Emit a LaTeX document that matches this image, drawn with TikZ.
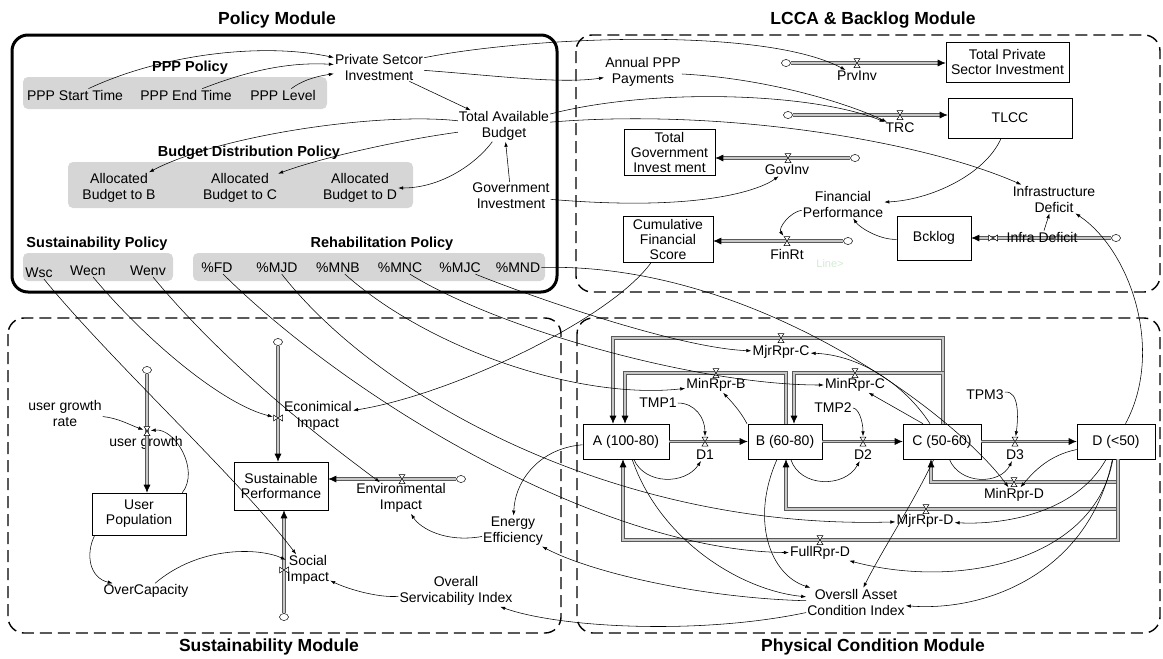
\documentclass[tikz,border=0pt]{standalone}
\usepackage{fontspec}
\setmainfont{Liberation Sans}
\usetikzlibrary{calc, arrows.meta, shapes.geometric}

\definecolor{polgray}{HTML}{D6D6D6}
\definecolor{ghost}{HTML}{D2EAD2}

% valve symbols (hourglass / bowtie) drawn over a named valve node
\newcommand{\hglass}[1]{\draw[fill=white, line width=0.5pt] ([shift={(-3,-4.5)}]#1.center) -- ([shift={(3,-4.5)}]#1.center) -- ([shift={(-3,4.5)}]#1.center) -- ([shift={(3,4.5)}]#1.center) -- cycle;}
\newcommand{\btie}[1]{\draw[fill=white, line width=0.5pt] ([shift={(-4.5,-3)}]#1.center) -- ([shift={(-4.5,3)}]#1.center) -- ([shift={(4.5,-3)}]#1.center) -- ([shift={(4.5,3)}]#1.center) -- cycle;}

\begin{document}
\begin{tikzpicture}[x=1pt, y=-1pt,
  var/.style={align=center, inner sep=1pt, font=\fontsize{14}{16}\selectfont},
  stock/.style={draw, line width=0.6pt, align=center, inner sep=1pt, font=\fontsize{14}{15}\selectfont},
  ttl/.style={font=\fontsize{17.5}{20}\selectfont\bfseries},
  sub/.style={font=\fontsize{14.5}{16}\selectfont\bfseries},
  polbox/.style={fill=polgray, rounded corners=5pt},
  module/.style={line width=1.4pt, dash pattern=on 12pt off 6pt, rounded corners=16pt},
  lnk/.style={line width=0.55pt, -{Latex[length=5pt,width=3.5pt]}},
  flow/.style={draw=black!65, line width=0.7pt, double=black!22, double distance=1.8pt, -{Latex[length=8pt,width=7pt,color=black]}},
  vlv/.style={inner sep=0pt, minimum width=7pt, minimum height=10pt},
  vlvh/.style={inner sep=0pt, minimum width=10pt, minimum height=7pt},
  cld/.style={draw, ellipse, fill=white, line width=0.5pt, minimum width=9pt, minimum height=7pt, inner sep=0pt}]
  \useasboundingbox (0,0) rectangle (1163,659);

  % module frames
  \draw[line width=3pt, rounded corners=16pt] (12,35) rectangle (557,292);
  \draw[module] (576,35) rectangle (1160,292);
  \draw[module] (8,318) rectangle (561,633);
  \draw[module] (577,318) rectangle (1160,633);

  \node[ttl] (tPol) at (277,20) {Policy Module};
  \node[ttl] (tLcca) at (873,20) {LCCA \& Backlog Module};
  \node[ttl] (tSus) at (269,647) {Sustainability Module};
  \node[ttl] (tPhy) at (873,647) {Physical Condition Module};

  % policy groups
  \fill[polbox] (23,77) rectangle (327,109);
  \fill[polbox] (68,162) rectangle (413,208);
  \fill[polbox] (23,253) rectangle (173,281);
  \fill[polbox] (193,253) rectangle (545,281);
  \node[sub] (tPPP) at (190,68) {PPP Policy};
  \node[sub] (tBud) at (249,153) {Budget Distribution Policy};
  \node[sub] (tSP) at (97,244) {Sustainability Policy};
  \node[sub] (tRP) at (382,244) {Rehabilitation Policy};

  \node[var] (pst) at (75,95) {PPP Start Time};
  \node[var] (pet) at (186,95) {PPP End Time};
  \node[var] (plv) at (283,95) {PPP Level};
  \node[var] (psi) at (379,67) {Private Setcor\\Investment};
  \node[var] (tab) at (504,126) {Total Available\\Budget};
  \node[var] (gin) at (511,196) {Government\\Investment};
  \node[var] (abB) at (119,188) {Allocated\\Budget to B};
  \node[var] (abC) at (240,188) {Allocated\\Budget to C};
  \node[var] (abD) at (360,188) {Allocated\\Budget to D};
  \node[var] (wsc) at (39,273) {Wsc};
  \node[var] (wecn) at (88,271) {Wecn};
  \node[var] (wenv) at (148,271) {Wenv};
  \node[var] (pFD) at (217,268) {\%FD};
  \node[var] (pMJD) at (277,268) {\%MJD};
  \node[var] (pMNB) at (338,268) {\%MNB};
  \node[var] (pMNC) at (400,268) {\%MNC};
  \node[var] (pMJC) at (460,268) {\%MJC};
  \node[var] (pMND) at (518,268) {\%MND};

  % LCCA & backlog
  \node[var] (app) at (643,72) {Annual PPP\\Payments};
  \node[stock, minimum width=123pt, minimum height=40pt] (tpsi) at (1007.5,62) {Total Private\\Sector Investment};
  \node[stock, minimum width=124pt, minimum height=40pt] (tlcc) at (1010,118) {TLCC};
  \node[stock, minimum width=91pt, minimum height=46pt] (tgi) at (669.5,152) {Total\\Government\\Invest ment};
  \node[stock, minimum width=90pt, minimum height=46pt] (cfs) at (668,239) {Cumulative\\Financial\\Score};
  \node[stock, minimum width=74pt, minimum height=44pt] (bck) at (934,238) {Bcklog};
  \node[var] (fp) at (843,204) {Financial\\Performance};
  \node[var] (infd) at (1054,199) {Infrastructure\\Deficit};
  \node[vlv] (vPrv) at (857,63) {};
  \node[cld] (cPrv) at (786,63) {};
  \node[var] (lPrv) at (857,76) {PrvInv};
  \node[vlv] (vTrc) at (900,115) {};
  \node[cld] (cTrc) at (788,115) {};
  \node[var] (lTrc) at (900,128) {TRC};
  \node[vlv] (vGov) at (788,158) {};
  \node[cld] (cGov) at (855,158) {};
  \node[var] (lGov) at (787,170) {GovInv};
  \node[vlv] (vFin) at (787,241) {};
  \node[cld] (cFin) at (848,241) {};
  \node[var] (lFin) at (787,254) {FinRt};
  \node[vlvh] (vIdf) at (993,238) {};
  \node[cld] (cIdf) at (1116,238) {};
  \node[var, text=ghost, font=\fontsize{11}{12}\selectfont] (gst) at (830,264) {Line>};

  % physical condition
  \node[stock, minimum width=86pt, minimum height=35pt] (aA) at (626,441.5) {A (100-80)};
  \node[stock, minimum width=74pt, minimum height=35pt] (bB) at (785,441.5) {B (60-80)};
  \node[stock, minimum width=78pt, minimum height=35pt] (cC) at (942,441.5) {C (50-60)};
  \node[stock, minimum width=78pt, minimum height=35pt] (dD) at (1116,441.5) {D (<50)};
  \node[vlv] (vD1) at (705,441.5) {};
  \node[vlv] (vD2) at (863,441.5) {};
  \node[vlv] (vD3) at (1015,441.5) {};
  \node[var] (lD1) at (705,455) {D1};
  \node[var] (lD2) at (863,455) {D2};
  \node[var] (lD3) at (1015,455) {D3};
  \node[var] (tmp1) at (658,403) {TMP1};
  \node[var] (tmp2) at (833,408) {TMP2};
  \node[var] (tpm3) at (985,395) {TPM3};
  \node[vlv] (vMjrC) at (781,338) {};
  \node[var] (lMjrC) at (781,352) {MjrRpr-C};
  \node[vlv] (vMinB) at (716,373) {};
  \node[var] (lMinB) at (716,385) {MinRpr-B};
  \node[vlv] (vMinC) at (855,373) {};
  \node[var] (lMinC) at (855,385) {MinRpr-C};
  \node[vlv] (vMinD) at (1014,482) {};
  \node[var] (lMinD) at (1014,495) {MinRpr-D};
  \node[vlv] (vMjrD) at (926,509) {};
  \node[var] (lMjrD) at (925,521) {MjrRpr-D};
  \node[vlv] (vFull) at (820,540) {};
  \node[var] (lFull) at (820,553) {FullRpr-D};
  \node[var] (oaci) at (856,602) {Oversll Asset\\Condition Index};

  % sustainability
  \node[cld] (cEcn) at (278,342) {};
  \node[vlvh] (vEcn) at (278,418) {};
  \node[var] (lEcn) at (318,416) {Econimical\\Impact};
  \node[stock, minimum width=94pt, minimum height=48pt] (sp) at (281,486) {Sustainable\\Performance};
  \node[cld] (cSoc) at (284,617) {};
  \node[vlvh] (vSoc) at (284,570) {};
  \node[var] (lSoc) at (308,570) {Social\\Impact};
  \node[cld] (cEnv) at (461,479) {};
  \node[vlv] (vEnv) at (402,479) {};
  \node[var] (lEnv) at (401,498) {Environmental\\Impact};
  \node[cld] (cUg) at (147,370) {};
  \node[vlv] (vUg) at (147,431) {};
  \node[var] (lUg) at (146,443) {user growth};
  \node[var] (ugr) at (65,413) {user growth\\rate};
  \node[stock, minimum width=94pt, minimum height=42pt] (up) at (139,514) {User\\Population};
  \node[var] (oc) at (146,591) {OverCapacity};
  \node[var] (ee) at (513,531) {Energy\\Efficiency};
  \node[var] (osi) at (456,591) {Overall\\Servicability Index};

  % flows
  \draw[flow] (cPrv.east) -- (cPrv -| tpsi.west);
  \draw[flow] (cTrc.east) -- (cTrc -| tlcc.west);
  \draw[flow] (cGov.west) -- (cGov -| tgi.east);
  \draw[flow] (cFin.west) -- (cFin -| cfs.east);
  \draw[flow] (cIdf.west) -- (cIdf -| bck.east);
  \node[var] (lIdf) at (1042,237) {Infra Deficit};
  \draw[flow] (aA.east) -- (bB.west);
  \draw[flow] (bB.east) -- (cC.west);
  \draw[flow] (cC.east) -- (dD.west);
  \draw[flow] ([xshift=1pt]cC.north) |- (vMjrC.center) -| ([xshift=-13pt]aA.north);
  \draw[flow] ([xshift=1pt]cC.north) |- (vMinC.center) -| ([xshift=9pt]bB.north);
  \draw[flow] ([xshift=1pt]bB.north) |- (vMinB.center) -| ([xshift=-1pt]aA.north);
  \draw[flow] ([xshift=2pt]dD.south) |- (vMinD.center) -| ([xshift=-11pt]cC.south);
  \draw[flow] ([xshift=2pt]dD.south) |- (vMjrD.center) -| ([xshift=1pt]bB.south);
  \draw[flow] ([xshift=2pt]dD.south) |- (vFull.center) -| ([xshift=-3pt]aA.south);
  \draw[flow] (cEcn.south) -- (cEcn |- sp.north);
  \draw[flow] (cSoc.north) -- (cSoc |- sp.south);
  \draw[flow] (cEnv.west) -- (cEnv -| sp.east);
  \draw[flow] (cUg.south) -- (cUg |- up.north);

  \foreach \v in {vPrv,vTrc,vGov,vFin,vD1,vD2,vD3,vMjrC,vMinB,vMinC,vMinD,vMjrD,vFull,vEnv,vUg}{\hglass{\v}}
  \foreach \v in {vIdf,vEcn,vSoc}{\btie{\v}}

  % links: policy
  \draw[lnk] (pst) .. controls (160,55) and (260,42) .. (psi);
  \draw[lnk] (pet) .. controls (250,70) and (290,62) .. (psi);
  \draw[lnk] (plv) .. controls (300,82) and (312,77) .. (psi);
  \draw[lnk] (psi) -- (tab);
  \draw[lnk] (gin) -- (tab);
  \draw[lnk] (tab) .. controls (380,112) and (220,135) .. (abB);
  \draw[lnk] (tab) .. controls (400,140) and (320,158) .. (abC);
  \draw[lnk] (tab) .. controls (475,165) and (440,188) .. (abD);
  \draw[lnk] (psi) .. controls (500,76) and (560,84) .. (app);
  \draw[lnk] (psi) .. controls (520,38) and (760,25) .. (lPrv);
  \draw[lnk] (app) .. controls (760,78) and (840,100) .. (lTrc);
  \draw[lnk] (tab) .. controls (650,88) and (810,92) .. (lTrc);
  \draw[lnk] (tab) .. controls (720,108) and (920,140) .. (infd);
  \draw[lnk] (gin) .. controls (700,212) and (760,190) .. (lGov);

  % links: LCCA
  \draw[lnk] (tlcc) .. controls (985,175) and (930,200) .. (fp);
  \draw[lnk] (bck) .. controls (880,240) and (860,228) .. (fp);
  \draw[lnk] (fp) .. controls (790,212) and (778,228) .. (vFin);
  \draw[lnk] (cfs) .. controls (610,320) and (450,395) .. (lEcn);
  \draw[lnk] (dD) .. controls (1165,350) and (1130,250) .. (infd);
  \draw[lnk] (lIdf) -- (infd);

  % links: physical condition
  \draw[lnk] (tmp1) .. controls (695,403) and (705,418) .. (vD1);
  \draw[lnk] (tmp2) .. controls (858,408) and (863,420) .. (vD2);
  \draw[lnk] (tpm3) .. controls (1020,390) and (1018,420) .. (vD3);
  \draw[lnk] (aA) .. controls (645,485) and (685,485) .. (lD1);
  \draw[lnk] (bB) .. controls (800,488) and (845,488) .. (lD2);
  \draw[lnk] (cC) .. controls (960,485) and (1000,485) .. (lD3);
  \draw[lnk] (aA) .. controls (660,540) and (740,590) .. (oaci);
  \draw[lnk] (bB) .. controls (750,520) and (770,575) .. (oaci);
  \draw[lnk] (cC) .. controls (915,500) and (885,545) .. (oaci);
  \draw[lnk] (dD) .. controls (1090,570) and (990,612) .. (oaci);
  \draw[lnk] (dD) .. controls (1050,455) and (1035,470) .. (lMinD);
  \draw[lnk] (dD) .. controls (1075,515) and (1000,525) .. (lMjrD);
  \draw[lnk] (dD) .. controls (1095,560) and (960,590) .. (lFull);
  \draw[lnk] ([xshift=-19pt]cC.north) -- (lMinC);
  \draw[lnk] ([xshift=-12pt]cC.north) .. controls (905,385) and (860,355) .. (lMjrC);
  \draw[lnk] ([xshift=-38pt]bB.north) .. controls (740,410) and (728,398) .. (lMinB);

  % links: rehabilitation policy
  \draw[lnk] (pFD) .. controls (350,400) and (600,550) .. (lFull);
  \draw[lnk] (pMJD) .. controls (380,400) and (620,530) .. (lMjrD);
  \draw[lnk] (pMNB) .. controls (430,350) and (580,400) .. (lMinB);
  \draw[lnk] (pMNC) .. controls (500,330) and (700,385) .. (lMinC);
  \draw[lnk] (pMJC) .. controls (540,300) and (680,348) .. (lMjrC);
  \draw[lnk] (pMND) .. controls (760,262) and (960,420) .. (lMinD);

  % links: sustainability
  \draw[lnk] (aA) .. controls (540,448) and (515,480) .. (ee);
  \draw[lnk] (ee) .. controls (445,543) and (420,528) .. (lEnv);
  \draw[lnk] (oaci) .. controls (700,598) and (590,572) .. (ee);
  \draw[lnk] (oaci) .. controls (700,635) and (560,628) .. (osi);
  \draw[lnk] (osi) .. controls (380,598) and (350,590) .. (lSoc);
  \draw[lnk] (wsc) .. controls (110,360) and (240,480) .. (lSoc);
  \draw[lnk] (wecn) .. controls (150,345) and (225,405) .. (vEcn);
  \draw[lnk] (wenv) .. controls (230,370) and (330,445) .. (lEnv);
  \draw[lnk] (ugr) .. controls (118,418) and (130,425) .. (vUg);
  \draw[lnk] ([xshift=-4pt]up.north east) .. controls (200,470) and (175,428) .. (vUg);
  \draw[lnk] ([xshift=3pt]up.south west) .. controls (85,555) and (90,578) .. (oc);
  \draw[lnk] (oc) .. controls (200,545) and (260,548) .. (lSoc);
\end{tikzpicture}
\end{document}
